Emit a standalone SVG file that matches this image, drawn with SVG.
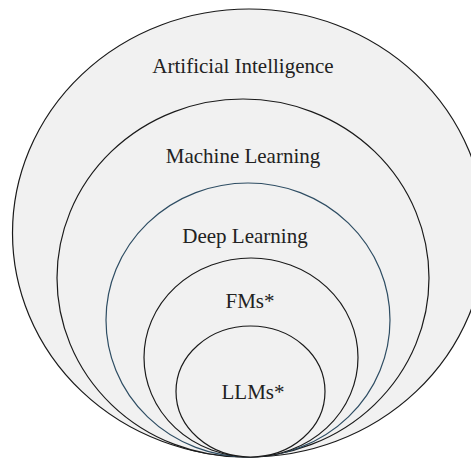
<svg xmlns="http://www.w3.org/2000/svg" width="471" height="459" viewBox="0 0 471 459">
<style>
.c{fill:#f1f1f1;stroke:#1a1a1a;stroke-width:1.2}
.dl{fill:#f1f1f1;stroke:#2e4d63;stroke-width:1.2}
.t{font-family:'Liberation Serif','DejaVu Serif',serif;font-size:21px;fill:#222;text-anchor:middle}
</style>
<rect width="471" height="459" fill="#fff"/>
<g id="ai">
<ellipse class="c" cx="249" cy="233" rx="236.5" ry="224"/>
<text class="t" x="243" y="73">Artificial Intelligence</text>
</g>
<g id="ml">
<ellipse class="c" cx="243" cy="278" rx="186" ry="179"/>
<text class="t" x="243" y="163">Machine Learning</text>
</g>
<g id="dl">
<ellipse class="dl" cx="248" cy="320" rx="142" ry="137"/>
<text class="t" x="245" y="243">Deep Learning</text>
</g>
<g id="fm">
<ellipse class="c" cx="251" cy="357.5" rx="107" ry="99.5"/>
<text class="t" x="250" y="308">FMs*</text>
</g>
<g id="llm">
<ellipse class="c" cx="250.5" cy="391.5" rx="74.5" ry="65.5"/>
<text class="t" x="253" y="399">LLMs*</text>
</g>
</svg>
